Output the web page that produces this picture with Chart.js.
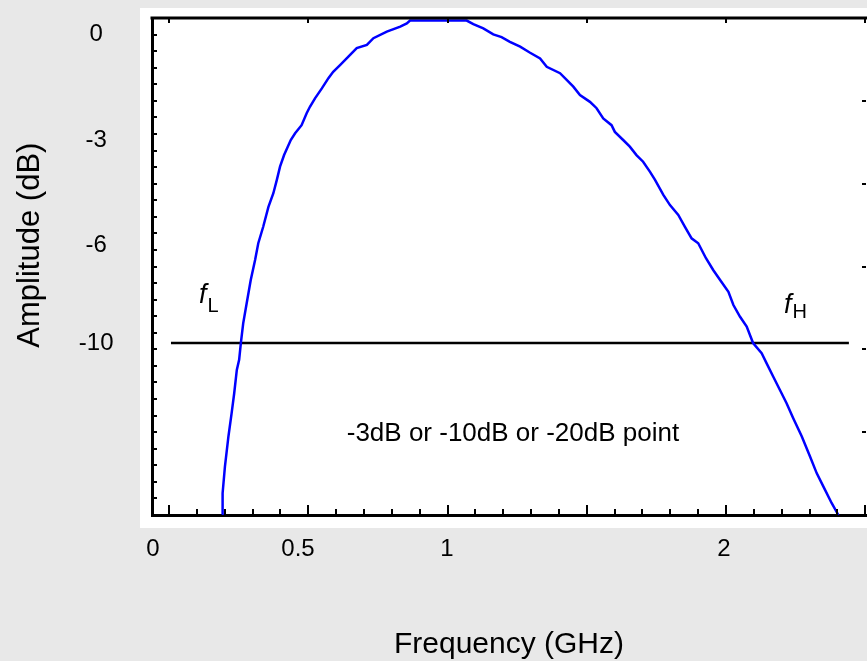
<!DOCTYPE html>
<html>
<head>
<meta charset="utf-8">
<script src="https://cdn.jsdelivr.net/npm/chart.js@4.4.1/dist/chart.umd.min.js"></script>
<style>
  html, body { margin: 0; padding: 0; background: #e8e8e8; }
  canvas { display: block; }
</style>
</head>
<body>
<canvas id="c" width="867" height="661"></canvas>
<script>
// ---------------- data ----------------
const freqGHz = [0.238,0.240,0.248,0.260,0.271,0.280,0.289,0.297,0.303,0.311,0.323,0.337,0.352,0.363,0.380,0.398,0.415,0.427,0.438,0.452,0.475,0.490,0.512,0.529,0.540,0.557,0.580,0.602,0.618,0.641,0.669,0.697,0.731,0.753,0.798,0.843,0.865,0.876,0.977,1.071,1.095,1.131,1.167,1.197,1.227,1.264,1.300,1.336,1.360,1.408,1.432,1.456,1.480,1.516,1.540,1.564,1.594,1.606,1.636,1.660,1.684,1.708,1.733,1.751,1.781,1.805,1.835,1.859,1.883,1.907,1.935,1.961,1.986,2.016,2.034,2.058,2.082,2.105,2.136,2.154,2.178,2.202,2.226,2.250,2.281,2.311,2.335,2.359,2.389,2.413];
const ampDB = [-17.0,-16.13,-15.05,-13.82,-12.87,-12.05,-11.10,-10.69,-10.0,-9.20,-8.38,-7.43,-6.61,-5.95,-5.48,-4.91,-4.52,-4.14,-3.76,-3.43,-3.0,-2.81,-2.58,-2.24,-2.06,-1.82,-1.54,-1.25,-1.07,-0.88,-0.64,-0.40,-0.31,-0.12,0.07,0.21,0.30,0.38,0.38,0.38,0.28,0.16,-0.01,-0.09,-0.22,-0.36,-0.53,-0.69,-0.93,-1.11,-1.30,-1.49,-1.73,-1.92,-2.10,-2.39,-2.58,-2.77,-3.0,-3.19,-3.43,-3.62,-3.91,-4.14,-4.57,-4.86,-5.14,-5.48,-5.81,-5.95,-6.54,-7.02,-7.43,-7.91,-8.45,-8.93,-9.33,-10.0,-10.42,-10.83,-11.38,-11.92,-12.46,-13.07,-13.82,-14.64,-15.32,-15.86,-16.54,-17.02];

const refLevelDB = -10;
const refSpanGHz = [0.062, 2.451];

const xTickValues = [0, 0.5, 1, 2];
const xTickLabels = ['0', '0.5', '1', '2'];
const yTickValues = [0, -3, -6, -10];
const yTickLabels = ['0', '-3', '-6', '-10'];

const xAxisTitle = 'Frequency (GHz)';
const yAxisTitle = 'Amplitude (dB)';

const noteText = '-3dB or -10dB or -20dB point';
const noteGHz = 1.238;
const noteDB = -13.71;

const markerSubs = ['L', 'H'];
const markerGHz = [0.159, 2.217];
const markerDB = [-8.37, -8.78];

// ---------------- layout / style ----------------
const FONT = "'Liberation Sans', Arial, Helvetica, sans-serif";
Chart.defaults.font.family = FONT;
Chart.defaults.color = '#000';

// The reference axes are schematic (non-uniform): each labelled value sits at a
// fixed fraction of its axis; values in between are placed piecewise-linearly.
const AXIS_WARP = {
  x: { values: xTickValues, fractions: [0.0014, 0.2045, 0.4132, 0.8011] },
  y: { values: yTickValues, fractions: [0.9678, 0.7545, 0.5433, 0.3461] }
};

function pairs(map) {
  return map.values.map((v, i) => [v, map.fractions[i]]).sort((a, b) => a[0] - b[0]);
}
function interp(pts, v, from, to) {
  let i = 0;
  if (v <= pts[0][from]) i = 0;
  else if (v >= pts[pts.length - 1][from]) i = pts.length - 2;
  else { while (v > pts[i + 1][from]) i++; }
  const a = pts[i], b = pts[i + 1];
  return a[to] + (v - a[from]) * (b[to] - a[to]) / (b[from] - a[from]);
}
function warpFrac(map, v) { return interp(pairs(map), v, 0, 1); }
function unwarpFrac(map, f) { return interp(pairs(map), f, 1, 0); }

class WarpScale extends Chart.LinearScale {
  getPixelForValue(value) {
    if (value === null || value === undefined || Number.isNaN(+value)) return NaN;
    return this.getPixelForDecimal(warpFrac(AXIS_WARP[this.id], +value));
  }
  getValueForPixel(pixel) {
    return unwarpFrac(AXIS_WARP[this.id], this.getDecimalForPixel(pixel));
  }
}
WarpScale.id = 'warp';
WarpScale.defaults = Chart.LinearScale.defaults;
Chart.register(WarpScale);

const panelPlugin = {
  id: 'panel',
  beforeDraw(chart) {
    const { ctx, chartArea: ca } = chart;
    ctx.save();
    ctx.fillStyle = '#e8e8e8';
    ctx.fillRect(0, 0, chart.width, chart.height);
    ctx.fillStyle = '#ffffff';
    ctx.fillRect(ca.left - 12, ca.top - 10, chart.width - (ca.left - 12), (ca.bottom + 13) - (ca.top - 10));
    ctx.restore();
  },
  afterDraw(chart) {
    const { ctx, chartArea: ca } = chart;
    const h = ca.bottom - ca.top;
    const seg = (x1, y1, x2, y2) => { ctx.beginPath(); ctx.moveTo(x1, y1); ctx.lineTo(x2, y2); ctx.stroke(); };
    ctx.save();
    ctx.strokeStyle = '#000';
    ctx.lineWidth = 3;
    seg(ca.left - 1.5, ca.top, chart.width, ca.top);
    ctx.lineWidth = 2;
    // left minor ticks (inward)
    for (let k = 1; k < 30; k++) {
      const y = Math.round(ca.bottom - k * h / 30);
      seg(ca.left, y, ca.left + 5, y);
    }
    // bottom ticks (inward), major every 5
    for (let k = 0; k <= 25; k++) {
      const x = Math.round(ca.left + 17 + k * 27.85);
      if (x > ca.right) break;
      seg(x, ca.bottom, x, ca.bottom - (k % 5 === 0 ? 10 : 6));
    }
    // top ticks
    for (let k = 0; k <= 5; k++) {
      const x = Math.round(ca.left + 17 + k * 139.25);
      seg(x, ca.top, x, ca.top + 5);
    }
    // right ticks
    for (let k = 1; k <= 5; k++) {
      const y = Math.round(ca.top + k * h / 6);
      seg(ca.right - 4, y, ca.right, y);
    }
    ctx.restore();
  }
};

const textPlugin = {
  id: 'texts',
  afterDatasetsDraw(chart) {
    const { ctx, chartArea: ca, scales: { x, y } } = chart;
    ctx.save();
    ctx.fillStyle = '#000';
    // note in the plot
    ctx.font = '26px ' + FONT;
    ctx.textAlign = 'center';
    ctx.textBaseline = 'middle';
    ctx.fillText(noteText, x.getPixelForValue(noteGHz), y.getPixelForValue(noteDB));
    // f_L / f_H labels
    const drops = [9, 5];
    markerSubs.forEach((sub, i) => {
      const px = x.getPixelForValue(markerGHz[i]);
      const py = y.getPixelForValue(markerDB[i]);
      ctx.textAlign = 'left';
      ctx.textBaseline = 'alphabetic';
      ctx.font = 'italic 27px ' + FONT;
      ctx.fillText('f', px, py);
      const w = ctx.measureText('f').width;
      ctx.font = '20px ' + FONT;
      ctx.fillText(sub, px + w + 1, py + drops[i]);
    });
    // y-axis title
    ctx.translate(30, ca.top + 0.457 * (ca.bottom - ca.top));
    ctx.rotate(-Math.PI / 2);
    ctx.font = '31px ' + FONT;
    ctx.textAlign = 'center';
    ctx.textBaseline = 'middle';
    ctx.fillText(yAxisTitle, 0, 0);
    ctx.restore();
  }
};

const xMin = unwarpFrac(AXIS_WARP.x, 0), xMax = unwarpFrac(AXIS_WARP.x, 1);
const yMin = unwarpFrac(AXIS_WARP.y, 0), yMax = unwarpFrac(AXIS_WARP.y, 1);

new Chart(document.getElementById('c'), {
  type: 'line',
  data: {
    datasets: [
      {
        label: 'Amplitude',
        data: freqGHz.map((f, i) => ({ x: f, y: ampDB[i] })),
        borderColor: '#0000ff',
        borderWidth: 2.5,
        pointRadius: 0,
        tension: 0,
        fill: false
      },
      {
        label: '-10 dB level',
        data: [{ x: refSpanGHz[0], y: refLevelDB }, { x: refSpanGHz[1], y: refLevelDB }],
        borderColor: '#000000',
        borderWidth: 2.5,
        pointRadius: 0,
        fill: false
      }
    ]
  },
  options: {
    responsive: false,
    devicePixelRatio: 1,
    animation: false,
    layout: { padding: { top: 18, right: 1, bottom: 0, left: 0 } },
    plugins: { legend: { display: false }, tooltip: { enabled: false } },
    scales: {
      x: {
        type: 'warp',
        min: xMin,
        max: xMax,
        afterBuildTicks: s => { s.ticks = xTickValues.map(v => ({ value: v })); },
        afterFit: s => { s.height = 146; s.paddingLeft = 0; s.paddingRight = 0; },
        grid: { display: false, drawTicks: false },
        border: { display: true, color: '#000', width: 3 },
        ticks: {
          autoSkip: false, maxRotation: 0, minRotation: 0,
          padding: 22, color: '#000',
          font: { size: 24, lineHeight: 1 },
          callback: (v, i) => xTickLabels[i]
        },
        title: {
          display: true, text: xAxisTitle, color: '#000',
          font: { size: 30, lineHeight: 1 },
          padding: { top: 0, bottom: 1 }
        }
      },
      y: {
        type: 'warp',
        min: yMin,
        max: yMax,
        afterBuildTicks: s => { s.ticks = yTickValues.map(v => ({ value: v })); },
        afterFit: s => { s.width = 152; s.paddingTop = 0; s.paddingBottom = 0; },
        grid: { display: false, drawTicks: false },
        border: { display: true, color: '#000', width: 3 },
        ticks: {
          autoSkip: false, crossAlign: 'center',
          padding: 38.5, color: '#000',
          font: { size: 24, lineHeight: 1 },
          callback: (v, i) => yTickLabels[i]
        },
        title: { display: false }
      }
    }
  },
  plugins: [panelPlugin, textPlugin]
});
</script>
</body>
</html>
